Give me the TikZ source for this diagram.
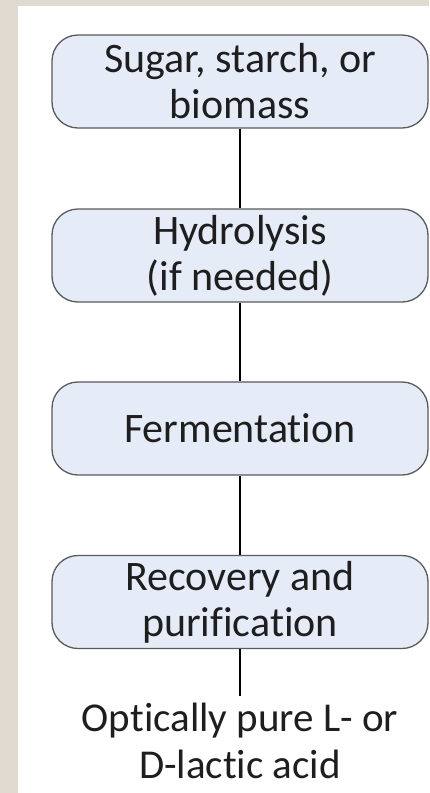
\documentclass[tikz,border=0pt]{standalone}
\usepackage{fontspec}
\setmainfont{Carlito}[RawFeature=-liga]
\definecolor{frame}{RGB}{224,218,208}
\definecolor{boxfill}{RGB}{230,236,247}
\definecolor{boxline}{RGB}{90,90,90}
\definecolor{ink}{RGB}{30,30,30}
\begin{document}
\begin{tikzpicture}[x=1pt,y=-1pt,
  stepbox/.style={draw=boxline, line width=1.3pt, fill=boxfill, rounded corners=26pt,
    minimum width=376pt, minimum height=93pt, align=center, text=ink,
    font=\fontsize{42}{46}\selectfont, inner sep=0pt},
  link/.style={draw=black, line width=1.3pt}]
  \useasboundingbox (0,0) rectangle (429,793);
  % page background with a beige frame on the left and top
  \fill[white] (0,0) rectangle (429,793);
  \fill[frame] (0,0) rectangle (429,6);
  \fill[frame] (0,0) rectangle (18,793);

  \node[stepbox] (src)  at (240,81.5) {Sugar, starch, or\\biomass};
  \node[stepbox] (hyd)  at (240,255.5) {Hydrolysis\\(if needed)};
  \node[stepbox] (ferm) at (240,428.5) {Fermentation};
  \node[stepbox] (rec)  at (240,602) {Recovery and\\purification};
  \node[align=center, text=ink, font=\fontsize{41}{47}\selectfont, inner sep=0pt,
        anchor=south] (prod) at (240,779) {Optically pure L- or\\D-lactic acid};
  \coordinate (prodtop) at (240,696);

  \draw[link] (src) -- (hyd);
  \draw[link] (hyd) -- (ferm);
  \draw[link] (ferm) -- (rec);
  \draw[link] (rec) -- (prodtop);
\end{tikzpicture}
\end{document}
